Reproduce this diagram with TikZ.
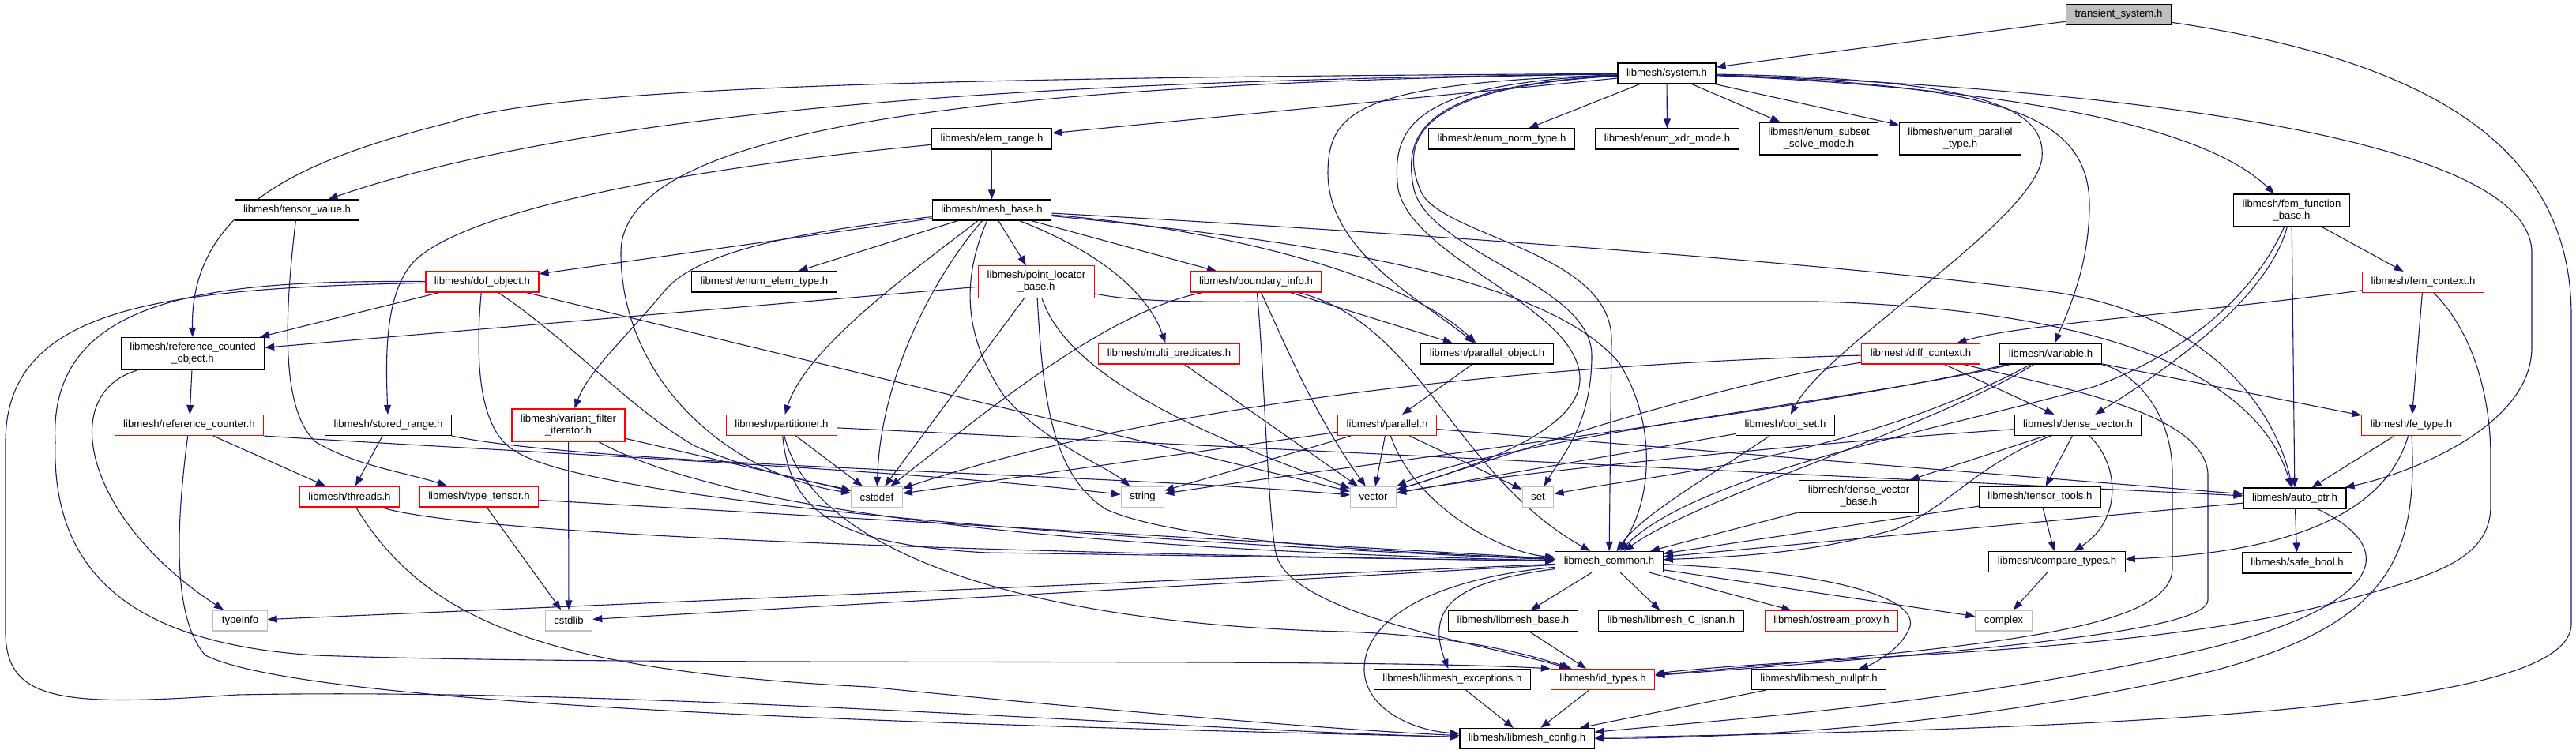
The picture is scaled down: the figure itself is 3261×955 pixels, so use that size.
\documentclass[tikz,border=0pt]{standalone}
\usepackage{fontspec}
\setmainfont{Liberation Sans}
\usetikzlibrary{arrows.meta, backgrounds}
\definecolor{edgeblue}{RGB}{25,25,112}
\definecolor{boxgray}{RGB}{191,191,191}

\begin{document}
\begin{tikzpicture}[x=1pt, y=-1pt, font=\fontsize{13.2}{15}\selectfont]

    % --- Estilos ---
    \tikzset{
        hdr/.style={rectangle, draw=black, line width=1.2pt, fill=white, inner xsep=11pt, inner ysep=5pt, minimum height=26pt, align=center},
        trunc/.style={hdr, draw=red},
        stdhdr/.style={hdr, draw=boxgray},
        root/.style={hdr, fill=boxgray},
        twoline/.style={minimum height=41pt},
        dep/.style={edgeblue, line width=1.1pt, -{Triangle[length=12pt, width=9pt]}}
    }
    \useasboundingbox (0,0) rectangle (3261,955);

    % --- Nodos ---
    \node (ts) [root] at (2682,18.5) {transient\_system.h};
    \node (sys) [hdr] at (2110,93) {libmesh/system.h};

    \node (er) [hdr] at (1255.5,176) {libmesh/elem\_range.h};
    \node (ent) [hdr] at (1901,176) {libmesh/enum\_norm\_type.h};
    \node (exm) [hdr] at (2110.5,176) {libmesh/enum\_xdr\_mode.h};
    \node (ess) [hdr, twoline] at (2302.5,175.5) {libmesh/enum\_subset\\\_solve\_mode.h};
    \node (ept) [hdr, twoline] at (2481.5,175.5) {libmesh/enum\_parallel\\\_type.h};

    \node (tv) [hdr] at (376,266) {libmesh/tensor\_value.h};
    \node (mb) [hdr] at (1255.5,266) {libmesh/mesh\_base.h};
    \node (ffb) [hdr, twoline] at (2901,266.5) {libmesh/fem\_function\\\_base.h};

    \node (dof) [trunc] at (610.5,357) {libmesh/dof\_object.h};
    \node (eet) [hdr] at (967.5,357) {libmesh/enum\_elem\_type.h};
    \node (plb) [trunc, twoline] at (1312,357) {libmesh/point\_locator\\\_base.h};
    \node (bi) [trunc] at (1590,357) {libmesh/boundary\_info.h};
    \node (fc) [trunc] at (3067.5,357.5) {libmesh/fem\_context.h};

    \node (rco) [hdr, twoline] at (244,448) {libmesh/reference\_counted\\\_object.h};
    \node (mp) [trunc] at (1480,448) {libmesh/multi\_predicates.h};
    \node (po) [hdr] at (1882.5,448) {libmesh/parallel\_object.h};
    \node (dc) [trunc] at (2431.5,448) {libmesh/diff\_context.h};
    \node (var) [hdr] at (2596,448) {libmesh/variable.h};

    \node (rc) [trunc] at (239.5,538.5) {libmesh/reference\_counter.h};
    \node (sr) [hdr] at (491.5,538.5) {libmesh/stored\_range.h};
    \node (vfi) [trunc, twoline] at (719.5,538.5) {libmesh/variant\_filter\\\_iterator.h};
    \node (part) [trunc] at (989.5,538.5) {libmesh/partitioner.h};
    \node (par) [trunc] at (1756,538.5) {libmesh/parallel.h};
    \node (qoi) [hdr] at (2260,538.5) {libmesh/qoi\_set.h};
    \node (dv) [hdr] at (2630.5,538.5) {libmesh/dense\_vector.h};
    \node (fet) [trunc] at (3052.5,538.5) {libmesh/fe\_type.h};

    \node (thr) [trunc] at (442.5,629) {libmesh/threads.h};
    \node (tt) [trunc] at (606.5,629) {libmesh/type\_tensor.h};
    \node (cstddef) [stdhdr] at (1110,629.5) {cstddef};
    \node (string) [stdhdr] at (1446.5,629.5) {string};
    \node (vector) [stdhdr] at (1738.5,629.5) {vector};
    \node (set) [stdhdr] at (1947,629.5) {set};
    \node (dvb) [hdr, twoline] at (2353,629) {libmesh/dense\_vector\\\_base.h};
    \node (tto) [hdr] at (2582.5,629.5) {libmesh/tensor\_tools.h};
    \node (ap) [hdr] at (2905,631) {libmesh/auto\_ptr.h};

    \node (lc) [hdr] at (2037,711.5) {libmesh\_common.h};
    \node (ct) [hdr] at (2604,711.5) {libmesh/compare\_types.h};
    \node (sb) [hdr] at (2908,713) {libmesh/safe\_bool.h};

    \node (typeinfo) [stdhdr] at (304,786) {typeinfo};
    \node (cstdlib) [stdhdr] at (720,786) {cstdlib};
    \node (lb) [hdr] at (1915.5,786.5) {libmesh/libmesh\_base.h};
    \node (lci) [hdr] at (2115.5,786.5) {libmesh/libmesh\_C\_isnan.h};
    \node (op) [trunc] at (2318.5,786.5) {libmesh/ostream\_proxy.h};
    \node (complex) [stdhdr] at (2536.5,786) {complex};

    \node (le) [hdr] at (1838.5,860.5) {libmesh/libmesh\_exceptions.h};
    \node (idt) [trunc] at (2029,860.5) {libmesh/id\_types.h};
    \node (lnp) [hdr] at (2302.5,860.5) {libmesh/libmesh\_nullptr.h};
    \node (cfg) [hdr] at (1933,935.5) {libmesh/libmesh\_config.h};

    % --- Conexiones ---
    \begin{scope}[on background layer]
    % transient_system.h
    \draw [dep] (ts) -- (sys);
    \draw [dep] (ts) .. controls (3100,80) and (3255,200) .. (3255,400) -- (3255,790) .. controls (3255,880) and (2900,920) .. (cfg);

    % system.h
    \draw [dep] (sys) -- (er);
    \draw [dep] (sys) -- (ent);
    \draw [dep] (sys) -- (exm);
    \draw [dep] (sys) -- (ess);
    \draw [dep] (sys) -- (ept);
    \draw [dep] (sys) .. controls (1500,100) and (800,120) .. (tv);
    \draw [dep] (sys) .. controls (1200,98) and (700,110) .. (570,155) .. controls (390,200) and (241,260) .. (rco);
    \draw [dep] (sys) .. controls (1250,105) and (786,160) .. (786,320) .. controls (786,480) and (920,600) .. (cstddef);
    \draw [dep] (sys) .. controls (1720,105) and (1681,140) .. (1681,220) .. controls (1682,320) and (1800,380) .. (po);
    \draw [dep] (sys) .. controls (1790,105) and (1760,160) .. (1770,240) .. controls (1790,330) and (2000,390) .. (2000,480) .. controls (2000,550) and (1850,595) .. (vector);
    \draw [dep] (sys) .. controls (1800,108) and (1775,170) .. (1790,240) .. controls (1810,320) and (2015,360) .. (2015,450) .. controls (2015,540) and (1975,580) .. (set);
    \draw [dep] (sys) .. controls (1790,110) and (1770,180) .. (1800,245) .. controls (1830,300) and (2040,320) .. (2040,430) -- (lc);
    \draw [dep] (sys) .. controls (2520,100) and (2590,140) .. (2585,200) .. controls (2575,280) and (2310,440) .. (qoi);
    \draw [dep] (sys) .. controls (2520,108) and (2645,140) .. (2645,260) .. controls (2645,340) and (2615,400) .. (var);
    \draw [dep] (sys) .. controls (2500,110) and (2780,150) .. (ffb);
    \draw [dep] (sys) .. controls (2650,110) and (3205,170) .. (3205,320) -- (3205,440) .. controls (3205,540) and (3050,600) .. (ap);

    % elem_range.h, tensor_value.h
    \draw [dep] (er) -- (mb);
    \draw [dep] (er) .. controls (900,210) and (600,260) .. (525,330) .. controls (487,370) and (488,450) .. (sr);
    \draw [dep] (tv) .. controls (360,400) and (355,520) .. (400,560) .. controls (450,590) and (520,600) .. (tt);

    % mesh_base.h
    \draw [dep] (mb) -- (dof);
    \draw [dep] (mb) -- (eet);
    \draw [dep] (mb) -- (plb);
    \draw [dep] (mb) -- (bi);
    \draw [dep] (mb) .. controls (1420,330) and (1460,390) .. (mp);
    \draw [dep] (mb) .. controls (1000,295) and (880,320) .. (840,370) .. controls (790,430) and (745,470) .. (vfi);
    \draw [dep] (mb) .. controls (1160,340) and (1020,440) .. (part);
    \draw [dep] (mb) .. controls (1190,340) and (1115,470) .. (cstddef);
    \draw [dep] (mb) .. controls (1210,370) and (1230,440) .. (1270,500) .. controls (1320,560) and (1400,590) .. (string);
    \draw [dep] (mb) .. controls (1550,290) and (1780,350) .. (po);
    \draw [dep] (mb) .. controls (1600,300) and (1950,340) .. (2050,460) .. controls (2100,540) and (2090,640) .. (lc);
    \draw [dep] (mb) .. controls (1700,290) and (2300,330) .. (2600,370) .. controls (2800,400) and (2880,520) .. (ap);

    % dof_object.h
    \draw [dep] (dof) -- (rco);
    \draw [dep] (dof) .. controls (600,470) and (610,545) .. (650,570) .. controls (750,640) and (1500,690) .. (lc);
    \draw [dep] (dof) .. controls (720,430) and (800,520) .. (880,565) .. controls (960,600) and (1040,612) .. (cstddef);
    \draw [dep] (dof) -- (vector);
    \draw [dep] (dof) .. controls (280,355) and (60,370) .. (70,560) .. controls (65,720) and (160,815) .. (400,830) .. controls (800,845) and (1700,832) .. (idt.north west);
    \draw [dep] (dof) .. controls (200,365) and (7,390) .. (7,560) -- (7,800) .. controls (7,890) and (80,895) .. (300,880) .. controls (800,870) and (1500,925) .. (cfg);

    % point_locator_base.h
    \draw [dep] (plb) -- (rco);
    \draw [dep] (plb) -- (cstddef);
    \draw [dep] (plb) .. controls (1355,485) and (1550,560) .. (vector);
    \draw [dep] (plb) .. controls (1320,500) and (1330,600) .. (1400,645) .. controls (1500,690) and (1800,700) .. (lc);
    \draw [dep] (plb) .. controls (1450,385) and (1550,382) .. (1700,382) -- (2300,382) .. controls (2600,390) and (2850,450) .. (ap);

    % boundary_info.h
    \draw [dep] (bi) .. controls (1400,395) and (1250,520) .. (cstddef);
    \draw [dep] (bi) .. controls (1620,420) and (1660,520) .. (vector);
    \draw [dep] (bi) -- (po);
    \draw [dep] (bi) .. controls (1800,410) and (1840,600) .. (lc);
    \draw [dep] (bi) .. controls (1600,460) and (1605,650) .. (1615,700) .. controls (1630,780) and (1900,820) .. (idt);

    % multi_predicates.h, parallel_object.h, parallel.h
    \draw [dep] (mp) -- (vector);
    \draw [dep] (po) -- (par);
    \draw [dep] (par) -- (cstddef);
    \draw [dep] (par) -- (string);
    \draw [dep] (par) -- (vector);
    \draw [dep] (par) -- (set);
    \draw [dep] (par) .. controls (1790,640) and (1900,700) .. (lc);
    \draw [dep] (par) -- (ap);

    % diff_context.h, variable.h
    \draw [dep] (dc) -- (dv);
    \draw [dep] (dc) .. controls (2000,460) and (1500,500) .. (cstddef);
    \draw [dep] (dc) .. controls (2150,490) and (1900,580) .. (vector);
    \draw [dep] (dc) .. controls (2600,490) and (2790,520) .. (2795,600) -- (2795,760) .. controls (2795,800) and (2500,825) .. (idt);
    \draw [dep] (var) -- (fet);
    \draw [dep] (var) .. controls (2400,500) and (1900,555) .. (vector);
    \draw [dep] (var) .. controls (2300,520) and (1700,590) .. (string);
    \draw [dep] (var) .. controls (2350,580) and (2100,600) .. (set);
    \draw [dep] (var) .. controls (2450,540) and (2150,630) .. (lc);
    \draw [dep] (var) .. controls (2700,470) and (2750,520) .. (2750,600) -- (2750,720) .. controls (2750,800) and (2500,820) .. (idt);

    % qoi_set.h, fem_function_base.h, fem_context.h
    \draw [dep] (qoi) -- (vector);
    \draw [dep] (qoi) .. controls (2170,600) and (2080,650) .. (lc);
    \draw [dep] (ffb) -- (fc);
    \draw [dep] (ffb) -- (ap);
    \draw [dep] (ffb) .. controls (2870,380) and (2740,470) .. (dv);
    \draw [dep] (ffb) .. controls (2850,380) and (2760,450) .. (2650,490) .. controls (2450,545) and (2150,600) .. (lc);
    \draw [dep] (fc) .. controls (2750,400) and (2560,410) .. (dc);
    \draw [dep] (fc) -- (fet);
    \draw [dep] (fc) .. controls (3130,420) and (3153,500) .. (3153,580) -- (3153,640) .. controls (3153,710) and (3080,730) .. (2950,765) .. controls (2700,830) and (2300,830) .. (idt);

    % dense_vector.h, fe_type.h, auto_ptr.h
    \draw [dep] (dv) -- (dvb);
    \draw [dep] (dv) -- (tto);
    \draw [dep] (dv) .. controls (2685,590) and (2685,660) .. (ct);
    \draw [dep] (dv) .. controls (2500,590) and (2470,640) .. (2400,670) .. controls (2300,700) and (2200,705) .. (lc);
    \draw [dep] (dv) .. controls (2300,560) and (1900,600) .. (vector);
    \draw [dep] (dvb) -- (lc);
    \draw [dep] (tto) -- (ct);
    \draw [dep] (tto) -- (lc);
    \draw [dep] (fet) -- (ap);
    \draw [dep] (fet) .. controls (3020,650) and (2900,700) .. (ct);
    \draw [dep] (fet) .. controls (3060,700) and (3030,790) .. (2800,850) .. controls (2500,920) and (2200,935) .. (cfg);
    \draw [dep] (ap) -- (sb);
    \draw [dep] (ap) -- (lc);
    \draw [dep] (ap) .. controls (3050,700) and (3000,770) .. (2800,820) .. controls (2500,890) and (2200,910) .. (cfg);

    % left side headers
    \draw [dep] (rco) -- (rc);
    \draw [dep] (rco) .. controls (70,500) and (110,660) .. (typeinfo);
    \draw [dep] (rc) -- (thr);
    \draw [dep] (rc.south east) .. controls (700,575) and (1150,595) .. (string);
    \draw [dep] (rc) .. controls (225,650) and (215,780) .. (260,830) .. controls (400,900) and (1300,920) .. (cfg);
    \draw [dep] (sr) -- (thr);
    \draw [dep] (sr.south east) .. controls (750,590) and (1400,600) .. (vector);
    \draw [dep] (vfi) -- (cstdlib);
    \draw [dep] (vfi) -- (cstddef);
    \draw [dep] (vfi) .. controls (850,610) and (1100,690) .. (lc);
    \draw [dep] (part) -- (cstddef);
    \draw [dep] (part) .. controls (1000,650) and (1060,690) .. (1250,700) -- (lc);
    \draw [dep] (part) -- (ap);
    \draw [dep] (part) .. controls (1030,700) and (1300,790) .. (1700,800) .. controls (1850,805) and (1940,830) .. (idt);
    \draw [dep] (thr) .. controls (550,665) and (900,695) .. (lc);
    \draw [dep] (thr) .. controls (540,790) and (700,850) .. (1100,870) .. controls (1400,900) and (1700,925) .. (cfg);
    \draw [dep] (tt) -- (cstdlib);
    \draw [dep] (tt) -- (lc);

    % libmesh_common.h
    \draw [dep] (lc) -- (lb);
    \draw [dep] (lc) -- (lci);
    \draw [dep] (lc) -- (op);
    \draw [dep] (lc) -- (complex);
    \draw [dep] (lc) -- (typeinfo);
    \draw [dep] (lc) -- (cstdlib);
    \draw [dep] (lc) .. controls (1860,735) and (1800,760) .. (le);
    \draw [dep] (lc) .. controls (1800,735) and (1725,790) .. (1727,850) .. controls (1730,900) and (1790,925) .. (cfg);
    \draw [dep] (lc) .. controls (2330,725) and (2440,760) .. (2415,800) .. controls (2400,830) and (2360,845) .. (lnp);
    \draw [dep] (lb) -- (idt);
    \draw [dep] (le) -- (cfg);
    \draw [dep] (idt) -- (cfg);
    \draw [dep] (lnp) -- (cfg);
    \draw [dep] (ct) -- (complex);
    \end{scope}

\end{tikzpicture}
\end{document}
